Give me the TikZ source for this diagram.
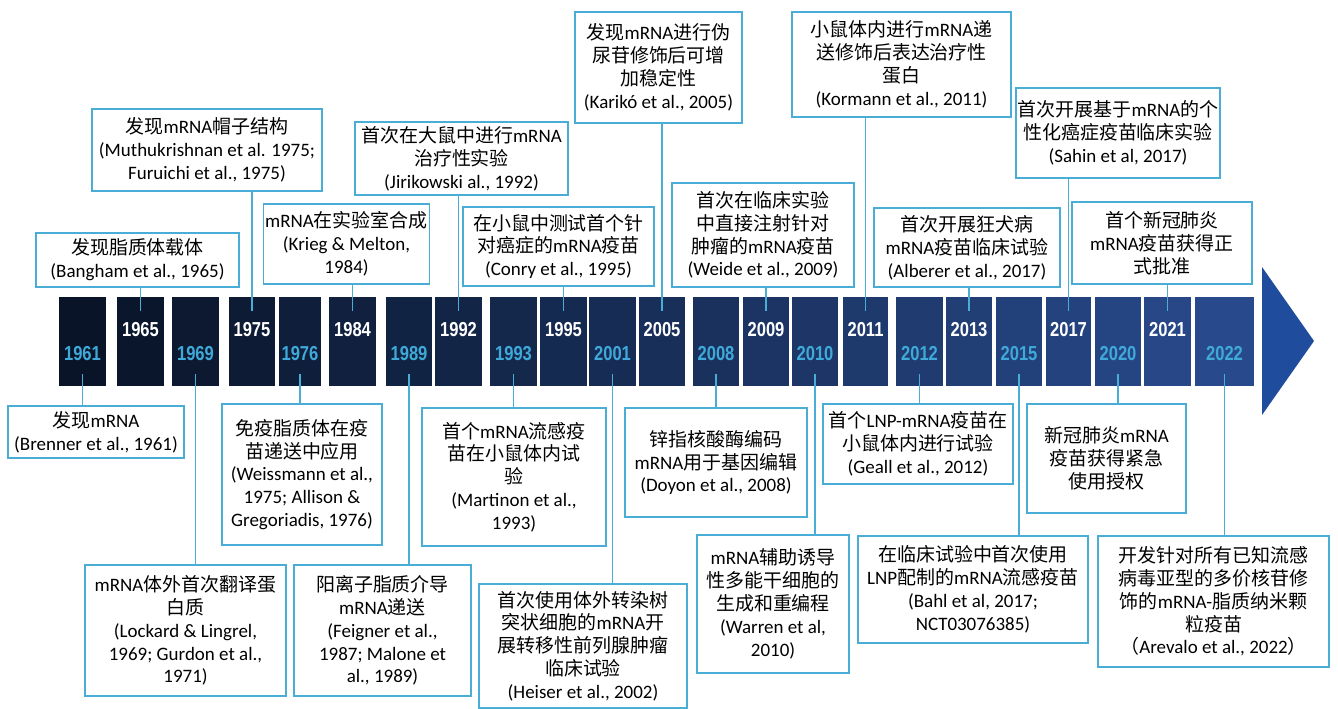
\documentclass[tikz,border=0pt]{standalone}
\usepackage{fontspec}
\setmainfont{Carlito}
\newfontfamily\cjk{Noto Sans CJK SC}
\newfontfamily\yrfont[FakeStretch=0.82]{Liberation Sans}
\usetikzlibrary{positioning}
\definecolor{BarDark}{HTML}{091428}
\definecolor{BarLight}{HTML}{284A8C}
\definecolor{ArrowBlue}{HTML}{1F4C9C}
\definecolor{LinkBlue}{HTML}{4AADD6}
\definecolor{YearCyan}{HTML}{3FAADA}
\newcommand{\zh}[1]{{\cjk #1}}

\begin{document}
\begin{tikzpicture}[x=0.02cm, y=-0.02cm,
        evbox/.style={rectangle, draw=LinkBlue, line width=1.1pt, fill=white, inner sep=1pt, align=center, font=\fontsize{10.8}{13}\selectfont},
        link/.style={LinkBlue, line width=1.1pt},
        yearlabel/.style={font=\yrfont\bfseries\fontsize{11.5}{12}\selectfont, inner sep=0pt}]
        \useasboundingbox (0,0) rectangle (1338,709);

        % events above the bar
        \node[evbox, minimum width=4.06cm, minimum height=1.08cm] (b1965) at (137.5,260) {\zh{发现脂质体载体}\\(Bangham et al., 1965)};
        \node[evbox, minimum width=4.6cm, minimum height=1.64cm] (b1975) at (207,150) {\zh{发现}mRNA\zh{帽子结构}\\(Muthukrishnan et al. 1975;\\Furuichi et al., 1975)};
        \node[evbox, minimum width=3.3cm, minimum height=1.6cm] (b1984) at (346.5,244) {mRNA\zh{在实验室合成}\\(Krieg \& Melton,\\1984)};
        \node[evbox, minimum width=4.26cm, minimum height=1.46cm] (b1992) at (461.5,158.5) {\zh{首次在大鼠中进行}mRNA\\\zh{治疗性实验}\\(Jirikowski al., 1992)};
        \node[evbox, minimum width=3.82cm, minimum height=1.58cm] (b1995) at (558.5,246.5) {\zh{在小鼠中测试首个针}\\\zh{对癌症的}mRNA\zh{疫苗}\\(Conry et al., 1995)};
        \node[evbox, minimum width=3.34cm, minimum height=2.22cm] (b2005) at (658.5,67.5) {\zh{发现}mRNA\zh{进行伪}\\\zh{尿苷修饰后可增}\\\zh{加稳定性}\\(Karikó et al., 2005)};
        \node[evbox, minimum width=3.64cm, minimum height=2.08cm] (b2009) at (763,235) {\zh{首次在临床实验}\\\zh{中直接注射针对}\\\zh{肿瘤的}mRNA\zh{疫苗}\\(Weide et al., 2009)};
        \node[evbox, minimum width=4.38cm, minimum height=2.1cm] (b2011) at (901.5,64.5) {\zh{小鼠体内进行}mRNA\zh{递}\\\zh{送修饰后表达治疗性}\\\zh{蛋白}\\(Kormann et al., 2011)};
        \node[evbox, minimum width=3.72cm, minimum height=1.58cm] (b2013) at (967,247.5) {\zh{首次开展狂犬病}\\mRNA\zh{疫苗临床试验}\\(Alberer et al., 2017)};
        \node[evbox, minimum width=4.04cm, minimum height=1.8cm] (b2017) at (1118,133) {\zh{首次开展基于}mRNA\zh{的个}\\\zh{性化癌症疫苗临床实验}\\(Sahin et al, 2017)};
        \node[evbox, minimum width=3.6cm, minimum height=1.64cm] (b2021) at (1162,243) {\zh{首个新冠肺炎}\\mRNA\zh{疫苗获得正}\\\zh{式批准}};

        % events below the bar
        \node[evbox, minimum width=3.52cm, minimum height=1.04cm] (b1961) at (96,432) {\zh{发现}mRNA\\(Brenner et al., 1961)};
        \node[evbox, minimum width=3.2cm, minimum height=2.82cm] (b1976) at (302,474.5) {\zh{免疫脂质体在疫}\\\zh{苗递送中应用}\\(Weissmann et al.,\\1975; Allison \&\\Gregoriadis, 1976)};
        \node[evbox, minimum width=4.02cm, minimum height=2.62cm] (b1969) at (185.5,630.5) {mRNA\zh{体外首次翻译蛋}\\\zh{白质}\\(Lockard \& Lingrel,\\1969; Gurdon et al.,\\1971)};
        \node[evbox, minimum width=3.54cm, minimum height=2.62cm] (b1989) at (382.5,630.5) {\zh{阳离子脂质介导}\\mRNA\zh{递送}\\(Feigner et al.,\\1987; Malone et\\al., 1989)};
        \node[evbox, minimum width=3.68cm, minimum height=2.76cm] (b1993) at (514,477) {\zh{首个}mRNA\zh{流感疫}\\\zh{苗在小鼠体内试}\\\zh{验}\\(Martinon et al.,\\1993)};
        \node[evbox, minimum width=4.16cm, minimum height=2.48cm] (b2001) at (583,646) {\zh{首次使用体外转染树}\\\zh{突状细胞的}mRNA\zh{开}\\\zh{展转移性前列腺肿瘤}\\\zh{临床试验}\\(Heiser et al., 2002)};
        \node[evbox, minimum width=3.64cm, minimum height=2.18cm] (b2008) at (716,462.5) {\zh{锌指核酸酶编码}\\mRNA\zh{用于基因编辑}\\(Doyon et al., 2008)};
        \node[evbox, minimum width=3.04cm, minimum height=2.76cm] (b2010) at (773,604) {mRNA\zh{辅助诱导}\\\zh{性多能干细胞的}\\\zh{生成和重编程}\\(Warren et al,\\2010)};
        \node[evbox, minimum width=3.8cm, minimum height=1.6cm] (b2012) at (918,444) {\zh{首个}LNP-mRNA\zh{疫苗在}\\\zh{小鼠体内进行试验}\\(Geall et al., 2012)};
        \node[evbox, minimum width=3.18cm, minimum height=2.18cm] (b2020) at (1106.5,458.5) {\zh{新冠肺炎}mRNA\\\zh{疫苗获得紧急}\\\zh{使用授权}};
        \node[evbox, minimum width=4.6cm, minimum height=2.14cm] (b2015) at (973,589.5) {\zh{在临床试验中首次使用}\\LNP\zh{配制的}mRNA\zh{流感疫苗}\\(Bahl et al, 2017;\\NCT03076385)};
        \node[evbox, minimum width=4.62cm, minimum height=2.62cm] (b2022) at (1213.5,601.5) {\zh{开发针对所有已知流感}\\\zh{病毒亚型的多价核苷修}\\\zh{饰的}mRNA-\zh{脂质纳米颗}\\\zh{粒疫苗}\\\zh{（}Arevalo et al., 2022\zh{）}};

        % the time bar
        \foreach \l/\r/\yr/\ly/\yc [count=\i] in {59/106/1961/354/YearCyan, 117/164/1965/330/white, 172/219/1969/354/YearCyan,
            229/275/1975/330/white, 279/321/1976/354/YearCyan, 329/376/1984/330/white, 386/432/1989/354/YearCyan,
            435/482/1992/330/white, 490/537/1993/354/YearCyan, 540/587/1995/330/white, 589/636/2001/354/YearCyan,
            639/685/2005/330/white, 693/739/2008/354/YearCyan, 743/789/2009/330/white, 792/838/2010/354/YearCyan,
            843/888/2011/330/white, 896/943/2012/354/YearCyan, 946/992/2013/330/white, 996/1042/2015/354/YearCyan,
            1046/1091/2017/330/white, 1095/1141/2020/354/YearCyan, 1144/1191/2021/330/white, 1195/1254/2022/354/YearCyan}
        {
            \pgfmathtruncatemacro\mixp{(\i-1)*100/22}
            \fill[BarLight!\mixp!BarDark] (\l,297) rectangle (\r,386);
            \node[yearlabel, text=\yc] (yl\yr) at ({(\l+\r)/2},\ly) {\yr};
            \coordinate (t\yr) at ({(\l+\r)/2},311);
            \coordinate (u\yr) at ({(\l+\r)/2},374);
        }
        \fill[ArrowBlue] (1262,267) -- (1314,341) -- (1262,415) -- cycle;

        % connectors
        \foreach \yr in {1965,1975,1984,1992,1995,2005,2009,2011,2013,2017,2021}
            \draw[link] (t\yr) -- (t\yr |- b\yr.south);
        \foreach \yr in {1961,1969,1976,1989,1993,2001,2008,2010,2012,2015,2020,2022}
            \draw[link] (u\yr) -- (u\yr |- b\yr.north);
    \end{tikzpicture}
\end{document}
